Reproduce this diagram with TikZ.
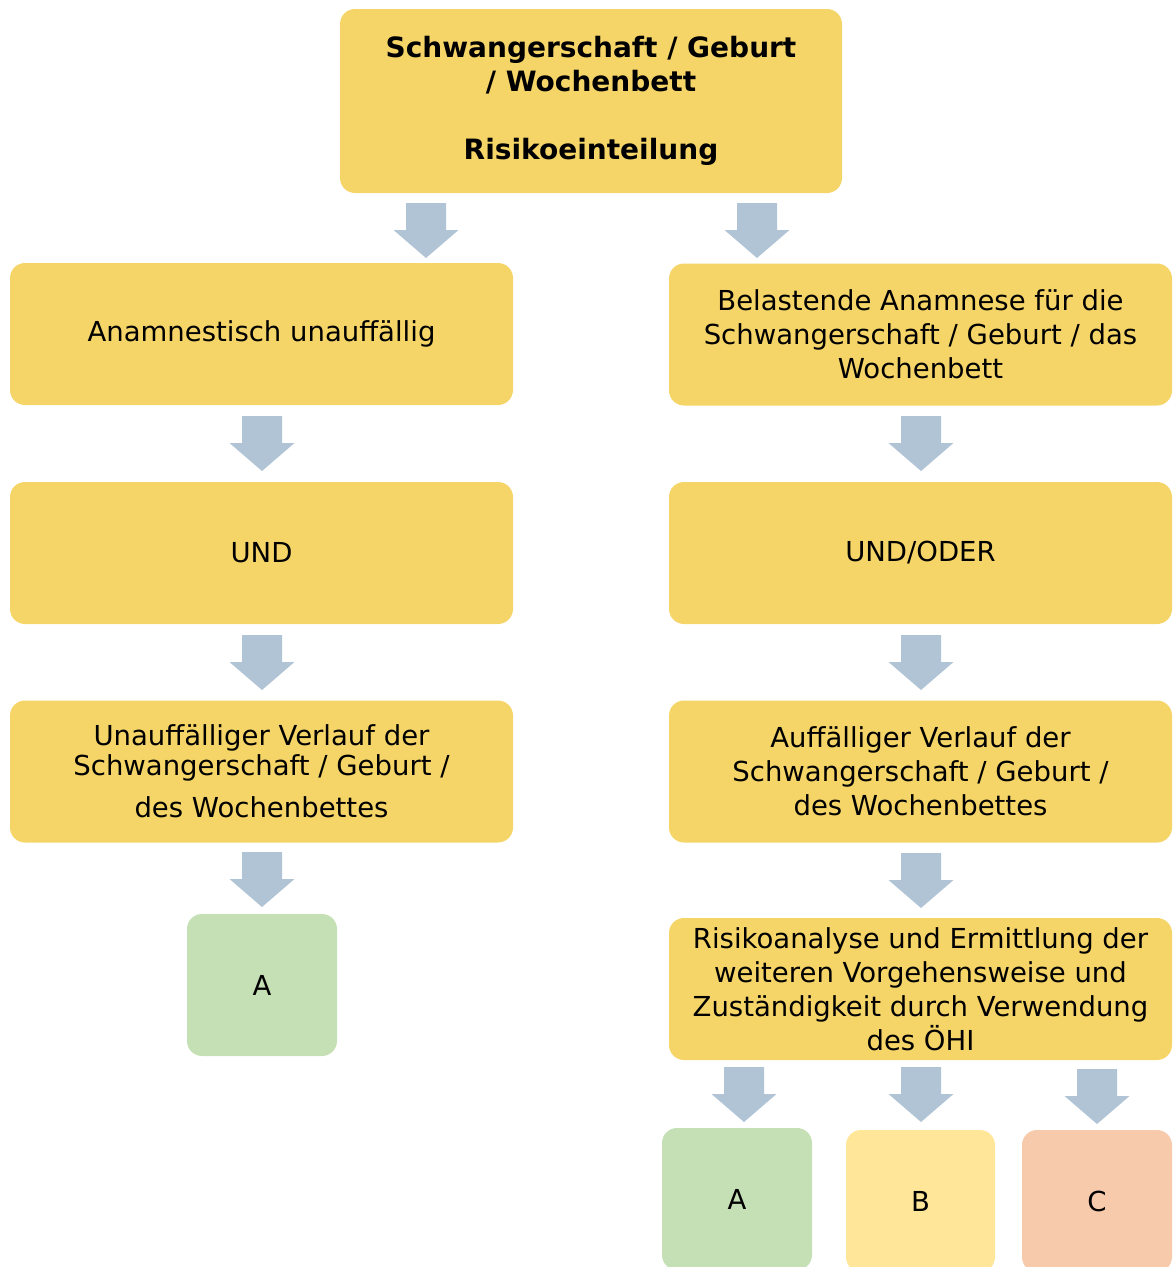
\documentclass[tikz,border=0pt]{standalone}
\usepackage{fontspec}
\setmainfont{DejaVu Sans}
\definecolor{boxyellow}{HTML}{F6D568}
\definecolor{boxgreen}{HTML}{C5E0B4}
\definecolor{boxlight}{HTML}{FFE699}
\definecolor{boxpeach}{HTML}{F7CAAC}
\definecolor{arrowblue}{HTML}{B0C4D6}
\tikzset{
  box/.style={fill=boxyellow, rounded corners=15pt, draw=none, align=center,
    minimum width=503pt, minimum height=142pt, inner sep=0pt,
    font=\fontsize{27.5}{34}\selectfont},
  smallbox/.style={box, minimum width=150pt},
  blockarrow/.style={fill=arrowblue, draw=none}
}
\newcommand\blkarrow[2]{\fill[blockarrow] (#1-20,#2) -- (#1+20,#2) -- (#1+20,#2+27) -- (#1+32.5,#2+27) -- (#1,#2+55) -- (#1-32.5,#2+27) -- (#1-20,#2+27) -- cycle;}
\begin{document}
\begin{tikzpicture}[x=1pt,y=-1pt]
\useasboundingbox (0,0) rectangle (1173,1267);
\clip (0,0) rectangle (1173,1267);
\node[box, minimum width=502pt, minimum height=184pt, font=\fontsize{28}{34}\selectfont\bfseries] (top) at (591,101)
  {Schwangerschaft / Geburt\\/ Wochenbett\\[34pt]Risikoeinteilung};
\node[box] (l1) at (261.5,334) {Anamnestisch unauffällig};
\node[box] (l2) at (261.5,553) {UND};
\node[box] (l3) at (261.5,771.5) {Unauffälliger Verlauf der\\[-4pt]Schwangerschaft / Geburt /\\[8pt]des Wochenbettes};
\node[smallbox, fill=boxgreen] (la) at (262,985) {A};
\node[box] (r1) at (920.5,334.5) {Belastende Anamnese für die\\Schwangerschaft / Geburt / das\\Wochenbett};
\node[box] (r2) at (920.5,553) {UND/ODER};
\node[box] (r3) at (920.5,771.5) {Auffälliger Verlauf der\\Schwangerschaft / Geburt /\\des Wochenbettes};
\node[box] (r4) at (920.5,989) {Risikoanalyse und Ermittlung der\\weiteren Vorgehensweise und\\Zuständigkeit durch Verwendung\\des ÖHI};
\node[smallbox, fill=boxgreen] (ra) at (737,1199) {A};
\node[smallbox, fill=boxlight, minimum width=149pt] (rb) at (920.5,1201) {B};
\node[smallbox, fill=boxpeach] (rc) at (1097,1201) {C};
\blkarrow{426}{203}
\blkarrow{757}{203}
\blkarrow{262}{416}
\blkarrow{921}{416}
\blkarrow{262}{635}
\blkarrow{921}{635}
\blkarrow{262}{852}
\blkarrow{921}{853}
\blkarrow{744}{1067}
\blkarrow{921}{1067}
\blkarrow{1097}{1069}
\end{tikzpicture}
\end{document}
